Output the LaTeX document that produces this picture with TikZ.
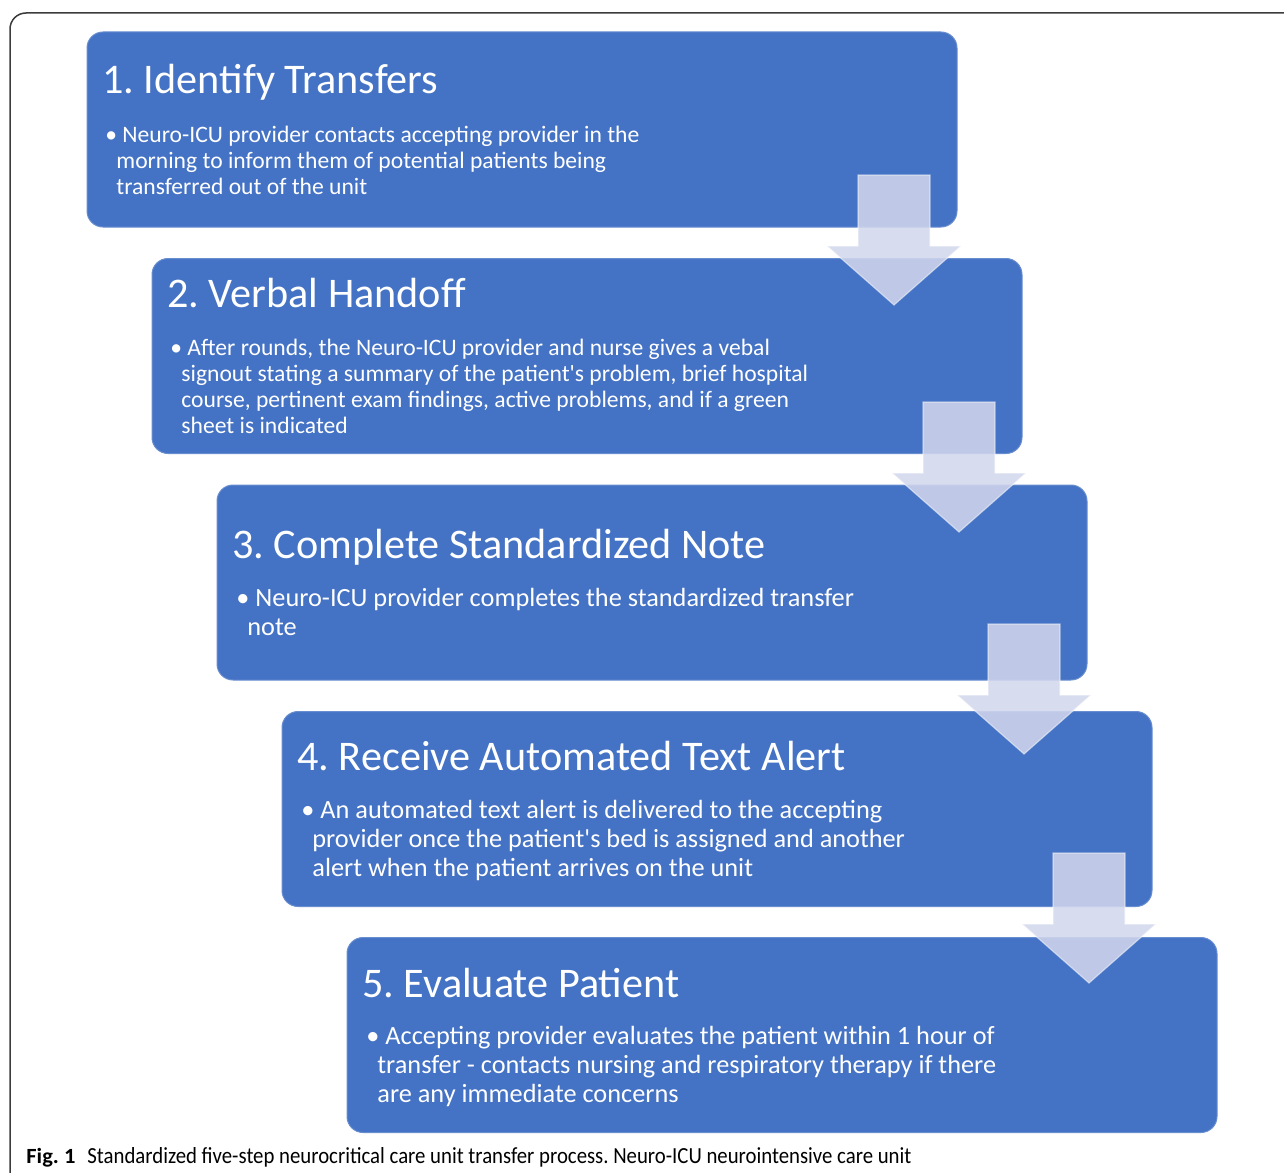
\documentclass[tikz,border=0pt]{standalone}
\usepackage{fontspec}
\setmainfont{Carlito}[Ligatures=TeXOff]
\frenchspacing
\definecolor{stepblue}{HTML}{4472C4}
\definecolor{arrowfill}{RGB}{210,215,237}
\definecolor{framegray}{HTML}{3C3C3C}
\tikzset{
  stepbox/.style = {fill = stepblue, draw = stepblue!80!white, line width = 0.5pt,
                    rounded corners = 8pt, minimum width = 435pt, minimum height = 97.5pt, inner sep = 0pt},
  steptitle/.style = {anchor = base west, inner sep = 0pt, text = white, font = \fontsize{21.1}{24}\selectfont},
  smallbody/.style = {anchor = base west, inner sep = 0pt, text = white, align = left, font = \fontsize{11.8}{13}\selectfont},
  bigbody/.style = {anchor = base west, inner sep = 0pt, text = white, align = left, font = \fontsize{13.15}{14.4}\selectfont},
  downarrow/.pic = {\draw[fill = arrowfill, fill opacity = 0.87, draw = white, draw opacity = 0.5, line width = 0.6pt]
                    (-36,0) -- (36,0) -- (36,71) -- (67,71) -- (0,130) -- (-67,71) -- (-36,71) -- cycle;}
}
\begin{document}
\begin{tikzpicture}[x = 0.5pt, y = -0.5pt]
    \useasboundingbox (0,0) rectangle (1284,1172);
    \draw[framegray, line width = 0.75pt, rounded corners = 8pt] (10,1190) -- (10,13) -- (1310,13);
    % the five steps
    \node[stepbox] (step1) at (522,129.5) {};
    \node[stepbox] (step2) at (587,356) {};
    \node[stepbox] (step3) at (652,582.5) {};
    \node[stepbox] (step4) at (717,809) {};
    \node[stepbox] (step5) at (782,1035) {};
    % arrows between the steps
    \pic (arrow1) at (894,175) {downarrow};
    \pic (arrow2) at (959,402) {downarrow};
    \pic (arrow3) at (1024,624) {downarrow};
    \pic (arrow4) at (1089,853) {downarrow};
    % texts (body nodes sit on the baseline of their last line)
    \node[steptitle] (title1) at (102,94) {1. Identify Transfers};
    \node[smallbody] (body1) at (105,194) {\textbullet{} Neuro-ICU provider contacts accepting provider in the\\
        \hspace*{5.5pt}morning to inform them of potential patients being\\
        \hspace*{5.5pt}transferred out of the unit};
    \node[steptitle] (title2) at (167,307) {2. Verbal Handoff};
    \node[smallbody] (body2) at (170,433) {\textbullet{} After rounds, the Neuro-ICU provider and nurse gives a vebal\\
        \hspace*{5.5pt}signout stating a summary of the patient's problem, brief hospital\\
        \hspace*{5.5pt}course, pertinent exam findings, active problems, and if a green\\
        \hspace*{5.5pt}sheet is indicated};
    \node[steptitle] (title3) at (232,558) {3. Complete Standardized Note};
    \node[bigbody] (body3) at (236,635) {\textbullet{} Neuro-ICU provider completes the standardized transfer\\
        \hspace*{5.5pt}note};
    \node[steptitle] (title4) at (297,770) {4. Receive Automated Text Alert};
    \node[bigbody] (body4) at (301,876) {\textbullet{} An automated text alert is delivered to the accepting\\
        \hspace*{5.5pt}provider once the patient's bed is assigned and another\\
        \hspace*{5.5pt}alert when the patient arrives on the unit};
    \node[steptitle] (title5) at (362,997) {5. Evaluate Patient};
    \node[bigbody] (body5) at (366,1102) {\textbullet{} Accepting provider evaluates the patient within 1 hour of\\
        \hspace*{5.5pt}transfer - contacts nursing and respiratory therapy if there\\
        \hspace*{5.5pt}are any immediate concerns};
    % caption
    \node[anchor = base west, inner sep = 0pt] (figlabel) at (26,1163) {\resizebox{24.5pt}{7.6pt}{\bfseries Fig. 1}};
    \node[anchor = base west, inner sep = 0pt] (caption) at (87,1163) {\resizebox{412pt}{8pt}{Standardized five-step neurocritical care unit transfer process. Neuro-ICU neurointensive care unit}};
\end{tikzpicture}
\end{document}
